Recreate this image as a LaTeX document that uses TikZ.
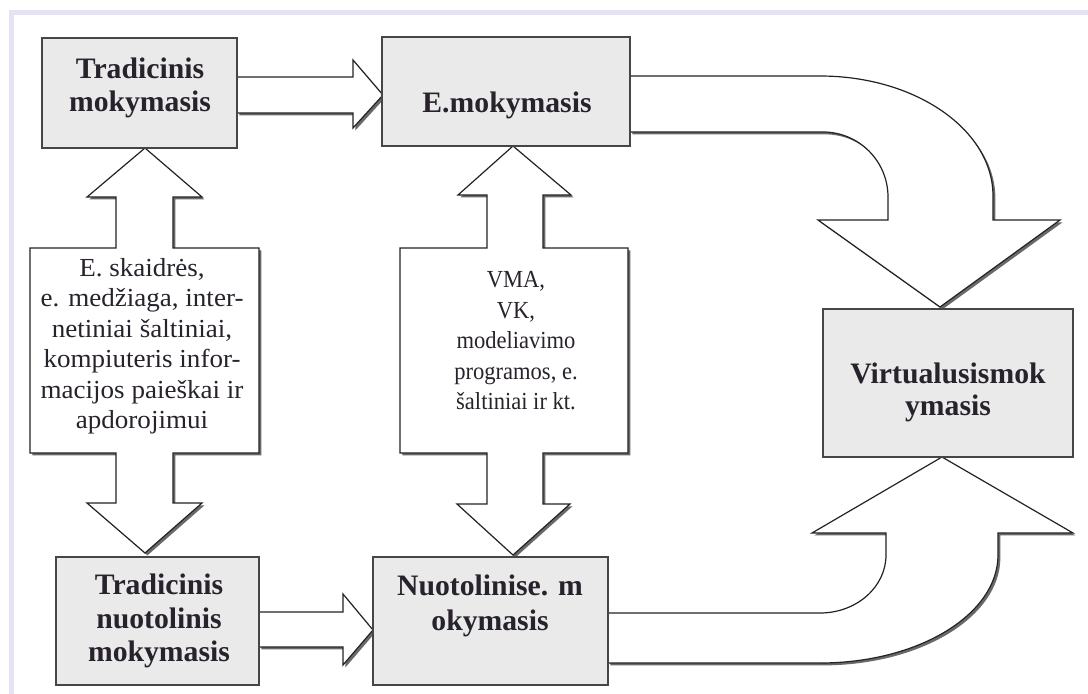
\documentclass[tikz,border=0pt]{standalone}
\usepackage{fontspec}
\setmainfont{Liberation Serif}
\newfontfamily\widefont[FakeStretch=1.04]{Liberation Serif}
\newfontfamily\narrowfont[FakeStretch=0.92]{Liberation Serif}
\usetikzlibrary{shadows}
\definecolor{framec}{RGB}{228,227,246}
\definecolor{boxfill}{RGB}{234,234,234}
\definecolor{boxline}{RGB}{70,70,70}
\definecolor{inkline}{RGB}{35,35,35}
\definecolor{ink}{RGB}{40,34,44}
\begin{document}
\begin{tikzpicture}[x=1pt,y=-1pt,
  blockarrow/.style={draw=inkline, line width=1.2pt, fill=white, line join=miter,
    drop shadow={shadow xshift=2.4pt, shadow yshift=-2.4pt, fill=black!65, opacity=0.9}},
  box/.style={draw=boxline, line width=1.8pt, fill=boxfill, inner sep=0pt},
  title/.style={font=\fontsize{29.7}{33.5}\selectfont\bfseries, text=ink, align=center, inner sep=0pt},
  widebody/.style={font=\fontsize{26}{30.5}\selectfont\widefont, text=ink, align=center, inner sep=0pt},
  narrowbody/.style={font=\fontsize{24.5}{30.5}\selectfont\narrowfont, text=ink, align=center, inner sep=0pt}]
\useasboundingbox (0,0) rectangle (1088,694);
\fill[white] (0,0) rectangle (1088,694);
\draw[framec, line width=5pt] (11,694) -- (11,12.5) -- (1088,12.5);

% straight block arrows
\draw[blockarrow] (237,77) -- (353,77) -- (353,60) -- (383,95) -- (353,128) -- (353,113) -- (237,113) -- cycle;
\draw[blockarrow] (259,612) -- (343,612) -- (343,594) -- (373,630) -- (343,665) -- (343,647) -- (259,647) -- cycle;

% double vertical arrows with text panels
\draw[blockarrow] (145,148) -- (202,197) -- (173,197) -- (173,248) -- (259,248) -- (259,453)
  -- (173,453) -- (173,503) -- (202,503) -- (145,553) -- (87,503) -- (116,503) -- (116,453)
  -- (30,453) -- (30,248) -- (116,248) -- (116,197) -- (87,197) -- cycle;
\draw[blockarrow] (513,146) -- (571,195) -- (543,195) -- (543,248) -- (628,248) -- (628,453)
  -- (543,453) -- (543,504) -- (570,504) -- (513,555) -- (457,504) -- (487,504) -- (487,453)
  -- (400,453) -- (400,248) -- (487,248) -- (487,195) -- (458,195) -- cycle;

% curved block arrows
\draw[blockarrow] (630,76) -- (820,76) .. controls (915.5,76) and (993,129.7) .. (993,196)
  -- (993,220) -- (1060,220) -- (940,307) -- (818,220) -- (888,220) -- (888,197)
  .. controls (888,161.1) and (858.9,132) .. (823,132) -- (630,132) -- cycle;
\draw[blockarrow] (608,663) -- (820,663) .. controls (918.3,663) and (998,614.6) .. (998,555)
  -- (998,533) -- (1073,533) -- (942,457) -- (812,533) -- (886,533) -- (886,555)
  .. controls (886,587) and (856.5,613) .. (820,613) -- (608,613) -- cycle;

% boxes
\node[box, minimum width=195pt, minimum height=110pt] (b1) at (139.5,93) {};
\node[box, minimum width=248pt, minimum height=109pt] (b2) at (506,91.5) {};
\node[box, minimum width=203pt, minimum height=128pt] (b3) at (157.5,621) {};
\node[box, minimum width=235pt, minimum height=128pt] (b4) at (490.5,621) {};
\node[box, minimum width=250pt, minimum height=148pt] (b5) at (948,383) {};

% box titles
\node[title] (t1) at (140,88) {Tradicinis\\mokymasis};
\node[title] (t2) at (507,105) {E.mokymasis};
\node[title] (t3) at (159,621) {Tradicinis\\nuotolinis\\mokymasis};
\node[title, font=\fontsize{29.7}{35.5}\selectfont\bfseries] (t4) at (490,606) {Nuotolinise. m\\okymasis};
\node[title, font=\fontsize{29.7}{32}\selectfont\bfseries] (t5) at (948,392) {Virtualusismok\\ymasis};

% panel texts
\node[widebody] (p1) at (142,346) {E. skaidrės,\\e. medžiaga, inter-\\netiniai šaltiniai,\\kompiuteris infor-\\macijos paieškai ir\\apdorojimui};
\node[narrowbody] (p2) at (516,341) {VMA,\\VK,\\modeliavimo\\programos, e.\\šaltiniai ir kt.};
\end{tikzpicture}
\end{document}
